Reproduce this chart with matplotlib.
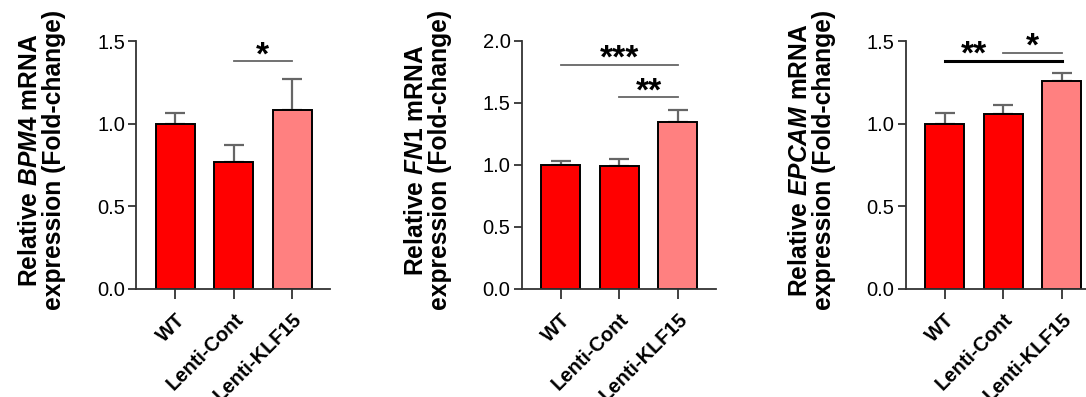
import matplotlib
matplotlib.use("Agg")
import matplotlib.pyplot as plt
import numpy as np

# группы и значения экспрессии (среднее и верхняя ошибка)
groups = ["WT", "Lenti-Cont", "Lenti-KLF15"]
genes = ["BPM4", "FN1", "EPCAM"]

bpm4_mean = [1.00, 0.77, 1.08]
bpm4_err = [0.065, 0.10, 0.19]
fn1_mean = [1.00, 0.99, 1.35]
fn1_err = [0.03, 0.06, 0.09]
epcam_mean = [1.00, 1.06, 1.26]
epcam_err = [0.065, 0.05, 0.045]

y_max = [1.5, 2.0, 1.5]
y_step = [0.5, 0.5, 0.5]

# значимость: (от, до, высота линии, текст, позиция текста)
sig_bpm4 = [(1, 2, 1.377, "*", 1.5)]
sig_fn1 = [(0, 2, 1.81, "***", 1.0), (1, 2, 1.545, "**", 1.5)]
sig_epcam = [(0, 2, 1.38, "**", 0.5), (1, 2, 1.43, "*", 1.5)]

means = [bpm4_mean, fn1_mean, epcam_mean]
errs = [bpm4_err, fn1_err, epcam_err]
sigs = [sig_bpm4, sig_fn1, sig_epcam]

bar_colors = ["#ff0000", "#ff0000", "#ff8080"]
axis_color = "#333333"
err_color = "#666666"

plt.rcParams["font.family"] = ["Liberation Sans", "DejaVu Sans"]
plt.rcParams["mathtext.fontset"] = "custom"
plt.rcParams["mathtext.it"] = "Liberation Sans:bold:italic"
plt.rcParams["mathtext.rm"] = "Liberation Sans:bold"
plt.rcParams["mathtext.bf"] = "Liberation Sans:bold"

W, H = 1086, 397
fig = plt.figure(figsize=(W / 100, H / 100), dpi=100)

lefts = [136, 521.7, 905.7]  # положение оси y, пиксели
ax_w, ax_h, ax_bottom = 194, 248, 289

x = np.arange(len(groups))

for k in range(3):
    ax = fig.add_axes([lefts[k] / W, 1 - ax_bottom / H, ax_w / W, ax_h / H])
    ax.bar(x, means[k], width=0.667, color=bar_colors,
           edgecolor="black", linewidth=1.4, zorder=2)
    ax.errorbar(x, means[k], yerr=[np.zeros(3), errs[k]], fmt="none",
                ecolor=err_color, elinewidth=1.6, capsize=7, capthick=1.6,
                zorder=1)

    ax.set_xlim(-0.67, 2.65)
    ax.set_ylim(0, y_max[k])
    ax.set_yticks(np.arange(0, y_max[k] + 0.01, y_step[k]))
    ax.set_yticklabels([f"{v:.1f}" for v in ax.get_yticks()], fontsize=14.5)
    ax.set_xticks(x)
    ax.set_xticklabels(groups, rotation=45, ha="right",
                       rotation_mode="anchor", fontsize=14.5,
                       fontweight="bold")

    for s in ["top", "right"]:
        ax.spines[s].set_visible(False)
    for s in ["left", "bottom"]:
        ax.spines[s].set_color(axis_color)
        ax.spines[s].set_linewidth(1.3)
    ax.tick_params(axis="y", length=6, width=1.3, color=axis_color, pad=2)
    ax.tick_params(axis="x", length=7, width=1.3, color=axis_color, pad=8)

    ax.set_ylabel(f"Relative $\\mathit{{{genes[k]}}}$ mRNA\n"
                  "expression (Fold-change)",
                  fontsize=17.7, fontweight="bold", linespacing=1.0)
    ax.yaxis.set_label_coords(-0.36, 0.52)

    # линии значимости и звёздочки
    for (a, b, y, txt, tx) in sigs[k]:
        thick = (k == 2 and txt == "**")
        ax.plot([a, b], [y, y], color="black" if thick else err_color,
                lw=2.2 if thick else 1.3, clip_on=False, zorder=3)
        ax.annotate(txt, (tx, y), xytext=(0, -2), textcoords="offset points",
                    ha="center", va="baseline", fontsize=24,
                    fontweight="bold", color="black")

fig.savefig("out.png", dpi=100)
